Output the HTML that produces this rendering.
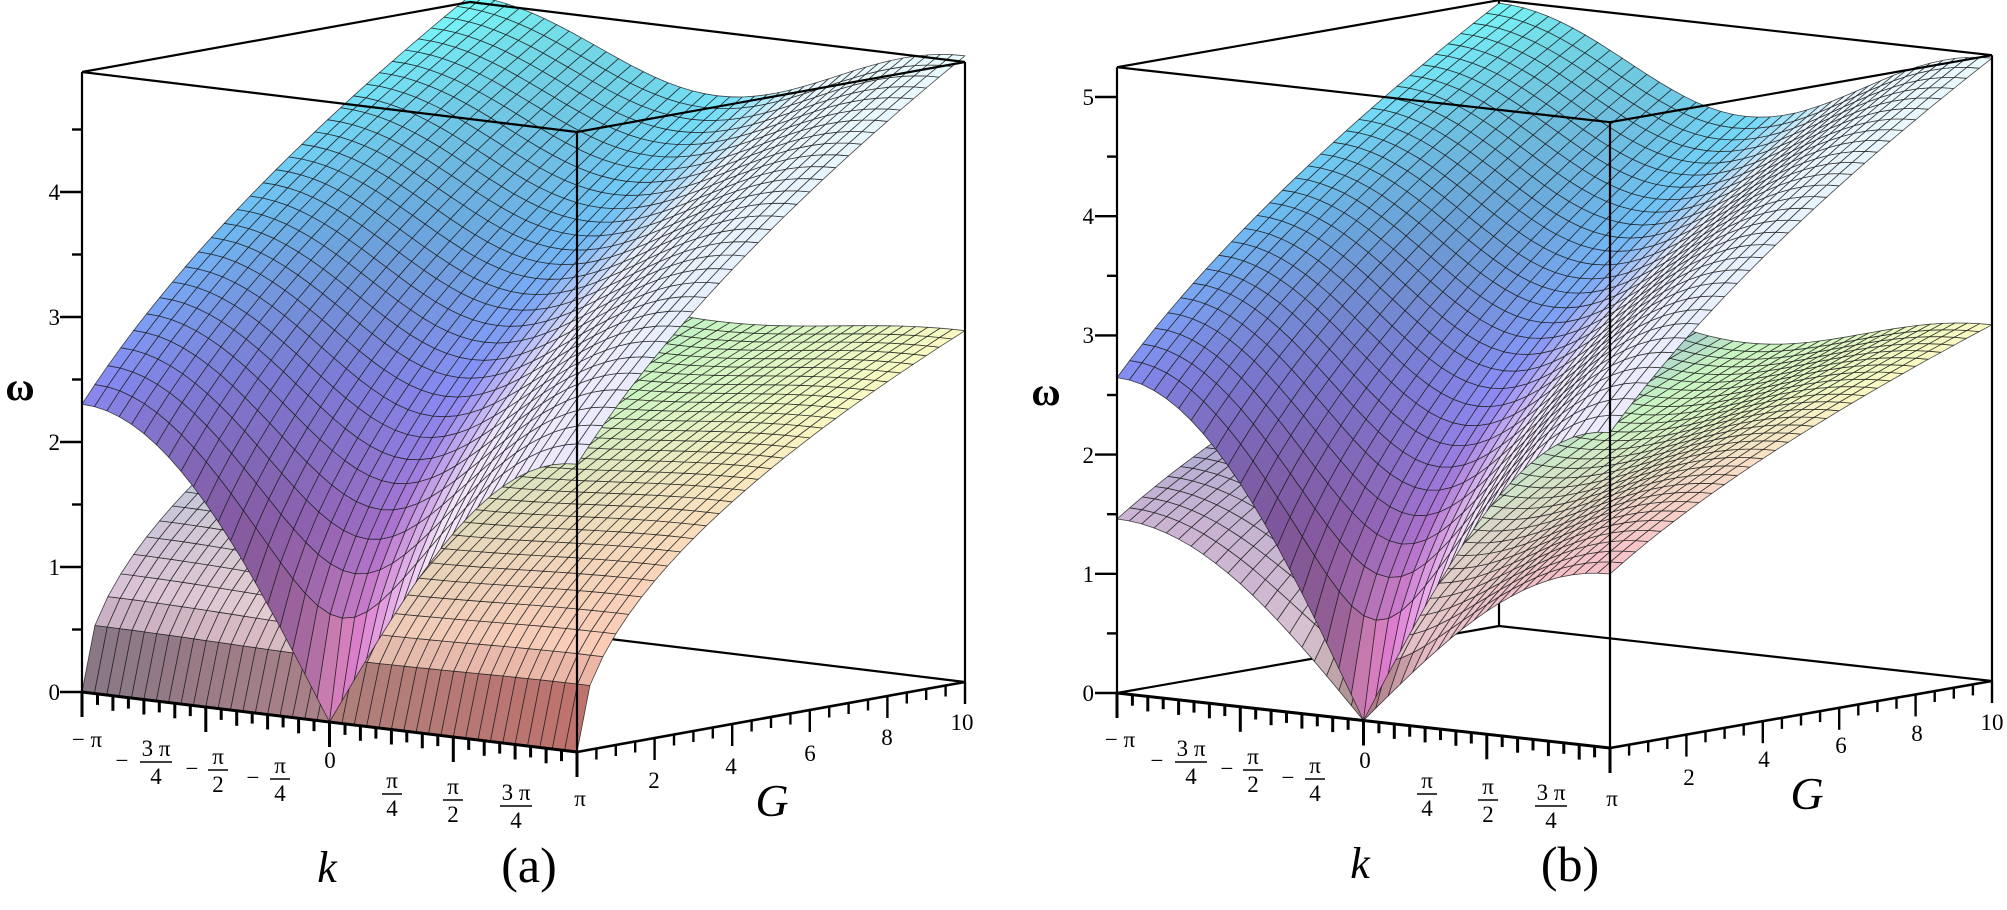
<!DOCTYPE html>
<html><head><meta charset="utf-8"><style>
html,body{margin:0;padding:0;background:#fff;}
svg{display:block;}
text{font-family:"Liberation Serif",serif;fill:#000;}
</style></head><body>
<svg id="s" width="2007" height="910" viewBox="0 0 2007 910" xmlns="http://www.w3.org/2000/svg">
<g id="back"></g><g id="surf"></g><g id="front"></g>
<g font-size="23">
<text x="60" y="700" text-anchor="end">0</text>
<text x="60" y="575" text-anchor="end">1</text>
<text x="60" y="450" text-anchor="end">2</text>
<text x="60" y="325" text-anchor="end">3</text>
<text x="60" y="200" text-anchor="end">4</text>
<text x="1094" y="701" text-anchor="end">0</text>
<text x="1094" y="582" text-anchor="end">1</text>
<text x="1094" y="463" text-anchor="end">2</text>
<text x="1094" y="343" text-anchor="end">3</text>
<text x="1094" y="224" text-anchor="end">4</text>
<text x="1094" y="105" text-anchor="end">5</text>
<text x="654" y="788" text-anchor="middle">2</text>
<text x="731" y="774" text-anchor="middle">4</text>
<text x="810" y="761" text-anchor="middle">6</text>
<text x="887" y="745" text-anchor="middle">8</text>
<text x="962" y="730" text-anchor="middle">10</text>
<text x="1689" y="785" text-anchor="middle">2</text>
<text x="1764" y="767" text-anchor="middle">4</text>
<text x="1841" y="753" text-anchor="middle">6</text>
<text x="1917" y="741" text-anchor="middle">8</text>
<text x="1992" y="730" text-anchor="middle">10</text>
</g>
<g font-size="23">
<text x="87" y="747" text-anchor="middle">− π</text>
<text x="122" y="768" text-anchor="middle">−</text>
<text x="156" y="756" text-anchor="middle">3 π</text><line x1="140" y1="762" x2="172" y2="762" stroke="#000" stroke-width="1.4"/><text x="156" y="784" text-anchor="middle">4</text>
<text x="192" y="776" text-anchor="middle">−</text>
<text x="218" y="764" text-anchor="middle">π</text><line x1="208" y1="770" x2="228" y2="770" stroke="#000" stroke-width="1.4"/><text x="218" y="792" text-anchor="middle">2</text>
<text x="253" y="785" text-anchor="middle">−</text>
<text x="280" y="773" text-anchor="middle">π</text><line x1="270" y1="779" x2="290" y2="779" stroke="#000" stroke-width="1.4"/><text x="280" y="801" text-anchor="middle">4</text>
<text x="330" y="768" text-anchor="middle">0</text>
<text x="392" y="788" text-anchor="middle">π</text><line x1="382" y1="794" x2="402" y2="794" stroke="#000" stroke-width="1.4"/><text x="392" y="816" text-anchor="middle">4</text>
<text x="453" y="794" text-anchor="middle">π</text><line x1="443" y1="800" x2="463" y2="800" stroke="#000" stroke-width="1.4"/><text x="453" y="822" text-anchor="middle">2</text>
<text x="516" y="800" text-anchor="middle">3 π</text><line x1="500" y1="806" x2="532" y2="806" stroke="#000" stroke-width="1.4"/><text x="516" y="828" text-anchor="middle">4</text>
<text x="580" y="806" text-anchor="middle">π</text>
<text x="1120" y="747" text-anchor="middle">− π</text>
<text x="1157" y="768" text-anchor="middle">−</text>
<text x="1191" y="756" text-anchor="middle">3 π</text><line x1="1175" y1="762" x2="1207" y2="762" stroke="#000" stroke-width="1.4"/><text x="1191" y="784" text-anchor="middle">4</text>
<text x="1227" y="776" text-anchor="middle">−</text>
<text x="1253" y="764" text-anchor="middle">π</text><line x1="1243" y1="770" x2="1263" y2="770" stroke="#000" stroke-width="1.4"/><text x="1253" y="792" text-anchor="middle">2</text>
<text x="1288" y="785" text-anchor="middle">−</text>
<text x="1315" y="773" text-anchor="middle">π</text><line x1="1305" y1="779" x2="1325" y2="779" stroke="#000" stroke-width="1.4"/><text x="1315" y="801" text-anchor="middle">4</text>
<text x="1365" y="768" text-anchor="middle">0</text>
<text x="1427" y="788" text-anchor="middle">π</text><line x1="1417" y1="794" x2="1437" y2="794" stroke="#000" stroke-width="1.4"/><text x="1427" y="816" text-anchor="middle">4</text>
<text x="1488" y="794" text-anchor="middle">π</text><line x1="1478" y1="800" x2="1498" y2="800" stroke="#000" stroke-width="1.4"/><text x="1488" y="822" text-anchor="middle">2</text>
<text x="1551" y="800" text-anchor="middle">3 π</text><line x1="1535" y1="806" x2="1567" y2="806" stroke="#000" stroke-width="1.4"/><text x="1551" y="828" text-anchor="middle">4</text>
<text x="1612" y="806" text-anchor="middle">π</text>
</g>
<text x="20" y="400" font-size="40" font-weight="bold" text-anchor="middle">ω</text>
<text x="1046" y="405" font-size="40" font-weight="bold" text-anchor="middle">ω</text>
<text x="772" y="816" font-size="46" font-style="italic" text-anchor="middle">G</text>
<text x="1807" y="809" font-size="46" font-style="italic" text-anchor="middle">G</text>
<text x="327" y="882" font-size="44" font-style="italic" text-anchor="middle">k</text>
<text x="1360" y="878" font-size="44" font-style="italic" text-anchor="middle">k</text>
<text x="529" y="882" font-size="50" text-anchor="middle">(a)</text>
<text x="1570" y="881" font-size="50" text-anchor="middle">(b)</text>
</svg>
<script>
(function(){
var PI=Math.PI;
function S(k){return Math.sin(k/2);}
var panels=[
 {P0:[82,692],du:[495,60],dv:[388,-70],unit:125,wmax:4.96,
  U:function(k,G){return Math.sqrt(1.98*G+5.3*S(k)*S(k));},
  L:function(k,G){return Math.sqrt(G*(0.7+0.09*S(k)*S(k)));}},
 {P0:[1117,693],du:[493,55],dv:[382,-67],unit:119.2,wmax:5.25,
  U:function(k,G){return Math.sqrt(2.03*G+7*S(k)*S(k));},
  L:function(k,G){return Math.sqrt(0.68*G+2.13*S(k)*S(k));}}
];
function cl(x,a,b){return x<a?a:(x>b?b:x);}
function mix(c1,c2,t){return [c1[0]+(c2[0]-c1[0])*t,c1[1]+(c2[1]-c1[1])*t,c1[2]+(c2[2]-c1[2])*t];}
function ramp(stops,t){t=cl(t,0,1);for(var i=0;i<stops.length-1;i++){if(t<=stops[i+1][0]){var f=(t-stops[i][0])/(stops[i+1][0]-stops[i][0]);return mix(stops[i][1],stops[i+1][1],f);}}return stops[stops.length-1][1];}
var uStops=[[0,[240,140,170]],[0.3,[160,110,200]],[0.5,[135,140,245]],[0.72,[110,190,245]],[1,[120,250,250]]];
var lStops=[[0,[150,205,225]],[0.5,[200,245,195]],[1,[250,250,195]]];
function rgb(c){return 'rgb('+Math.round(c[0])+','+Math.round(c[1])+','+Math.round(c[2])+')';}
var back='',front='',out='';
panels.forEach(function(p,pi){
 function proj(u,v,w){return [p.P0[0]+u*p.du[0]+v*p.dv[0], p.P0[1]+u*p.du[1]+v*p.dv[1]-w*p.unit];}
 var cx=p.dv[0]*(-p.unit), cy=p.du[0]*p.unit, cz=p.du[0]*p.dv[1]-p.dv[0]*p.du[1];
 var nk=40,nG=30,e=1e-3;
 [['L',p.L],['U',p.U]].forEach(function(sf){
  var f=sf[1],polys=[];
  for(var i=0;i<nk;i++)for(var j=0;j<nG;j++){
   var k0=-PI+2*PI*i/nk,k1=-PI+2*PI*(i+1)/nk,G0=10*j/nG,G1=10*(j+1)/nG;
   var pts=[[k0,G0],[k1,G0],[k1,G1],[k0,G1]].map(function(q){var u=(q[0]+PI)/(2*PI),v=q[1]/10,w=f(q[0],q[1]);return proj(u,v,w);});
   var kc=(k0+k1)/2,Gc=(G0+G1)/2,wc=f(kc,Gc);
   var dk=(f(kc+e,Gc)-f(kc-e,Gc))/(2*e);
   var dG=(f(kc,Gc+e)-f(kc,Math.max(0,Gc-e)))/(Gc>e?2*e:(Gc+e));
   var c;
   if(sf[0]=='U'){
    c=ramp(uStops,wc/p.wmax);
    if(kc<0){var d=cl(-dk/1.6,0,1);c=mix(c,[90,60,105],0.75*d);}
    else{
     c=mix(c,[240,110,235],0.6*cl(dk/1.2,0,1)*cl(1-wc/p.wmax,0,1)+0.2*cl(dk,0,1));
     c=mix(c,[253,250,255],0.85*cl((kc-0.2)/1.0,0,1));
    }
   }else{
    var a=(kc+PI)/(2*PI);
    c=ramp(lStops,a);
    if(pi==1&&kc<0)c=mix(c,[110,130,205],0.6*cl(-kc/1.5,0,1));
    var pk=kc>0?[250,185,180]:[245,190,210];
    if(pi==1&&kc>0)pk=[245,160,205];
    c=mix(c,pk,(pi==0?0.8:0.65)*cl(1-Gc/7,0,1));
    var s=cl((dG-0.5)/1.0,0,1);
    c=mix(c,mix([60,55,65],[140,40,45],a),0.9*s);
   }
   var u=(kc+PI)/(2*PI),v=Gc/10;
   var depth=cx*u+cy*v+cz*wc;
   polys.push([depth,'<polygon points="'+pts.map(function(q){return q[0].toFixed(1)+','+q[1].toFixed(1);}).join(' ')+'" fill="'+rgb(c)+'"/>']);
  }
  polys.sort(function(a,b){return b[0]-a[0];});
  out+=polys.map(function(x){return x[1];}).join('');
 });
 var H=p.wmax;
 var B0=proj(0,0,0),B1=proj(1,0,0),B2=proj(1,1,0),B3=proj(0,1,0);
 var T0=proj(0,0,H),T1=proj(1,0,H),T2=proj(1,1,H),T3=proj(0,1,H);
 function ln(a,b,w){return '<line x1="'+a[0].toFixed(1)+'" y1="'+a[1].toFixed(1)+'" x2="'+b[0].toFixed(1)+'" y2="'+b[1].toFixed(1)+'" stroke="#000" stroke-width="'+(w||2.2)+'"/>';}
 back+=ln(B0,B3)+ln(B3,B2)+ln(B3,T3);
 front+=ln(B0,B1,3)+ln(B1,B2,2.6)+ln(B0,T0)+ln(B1,T1)+ln(B2,T2)+ln(T0,T1)+ln(T1,T2)+ln(T2,T3)+ln(T3,T0);
 for(var t=0;t<=32;t++){var q=proj(t/32,0,0);var L=(t%8==0)?25:(t%2==0?15:11);front+=ln(q,[q[0],q[1]+L],3);}
 for(var g=1;g<=20;g++){var q=proj(1,g/20,0);var L=(g%4==0)?22:11;front+=ln(q,[q[0],q[1]+L],2.4);}
 for(var w=0;w<=Math.floor(H*2);w++){var q=proj(0,0,w/2);var L=(w%2==0)?22:10;front+=ln(q,[q[0]-L,q[1]],2.4);}
});
document.getElementById('back').innerHTML=back;
document.getElementById('surf').innerHTML='<g stroke="#1a1a1a" stroke-width="0.8" stroke-opacity="0.8" stroke-linejoin="round">'+out+'</g>';
document.getElementById('front').innerHTML=front;
})();
</script>
</body></html>
